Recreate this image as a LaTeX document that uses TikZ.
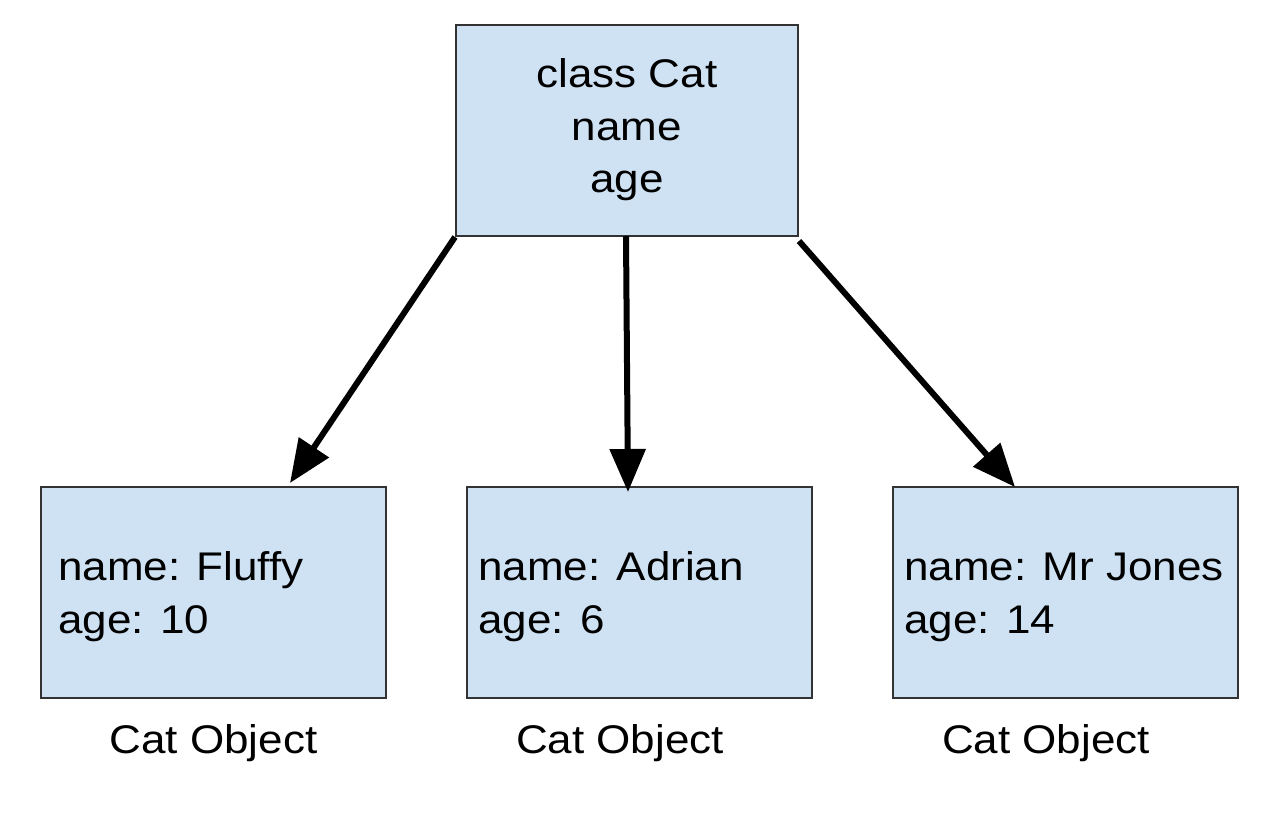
\documentclass[tikz,border=0pt]{standalone}
\usepackage{fontspec}
\setmainfont{Liberation Sans}[FakeStretch=1.1]
\usetikzlibrary{arrows.meta}
\definecolor{boxfill}{HTML}{CFE2F3}
\definecolor{boxline}{HTML}{333333}
\tikzset{
  umlbox/.style={draw=boxline, line width=2pt, fill=boxfill, rectangle, inner sep=0pt},
  txt/.style={inner sep=0pt, font=\fontsize{40}{54}\selectfont, text=black},
  conn/.style={line width=6pt, -{Triangle[length=43pt,width=35pt]}}
}
\begin{document}
\begin{tikzpicture}[x=1pt,y=-1pt]
\useasboundingbox (0,0) rectangle (1276,815);
\fill[white] (0,0) rectangle (1276,815);
% class box
\node[umlbox, minimum width=342pt, minimum height=211pt] (cls) at (627,130.5) {};
\node[txt, anchor=base] (t1) at (627,87) {class Cat};
\node[txt, anchor=base] (t2) at (627,140) {name};
\node[txt, anchor=base] (t3) at (627,192) {age};
% object boxes
\node[umlbox, minimum width=345pt, minimum height=211pt] (o1) at (213.5,592.5) {};
\node[umlbox, minimum width=345pt, minimum height=211pt] (o2) at (639.5,592.5) {};
\node[umlbox, minimum width=345pt, minimum height=211pt] (o3) at (1065.5,592.5) {};
\node[txt, anchor=base west] (n1) at (58,580) {name: Fluffy};
\node[txt, anchor=base west] (a1) at (58,633) {age: 10};
\node[txt, anchor=base west] (n2) at (478,580) {name: Adrian};
\node[txt, anchor=base west] (a2) at (478,633) {age: 6};
\node[txt, anchor=base west] (n3) at (904,580) {name: Mr Jones};
\node[txt, anchor=base west] (a3) at (904,633) {age: 14};
\node[txt, anchor=base] (c1) at (213.5,753) {Cat Object};
\node[txt, anchor=base] (c2) at (620,753) {Cat Object};
\node[txt, anchor=base] (c3) at (1046,753) {Cat Object};
% arrow tips
\coordinate (e1) at (290,483);
\coordinate (e2) at (628,492);
\coordinate (e3) at (1015,487);
\coordinate (s2) at (626,236);
\draw[conn] (cls.south west) -- (e1);
\draw[conn] (s2) -- (e2);
\draw[conn] ([yshift=-4pt]cls.south east) -- (e3);
\end{tikzpicture}
\end{document}
